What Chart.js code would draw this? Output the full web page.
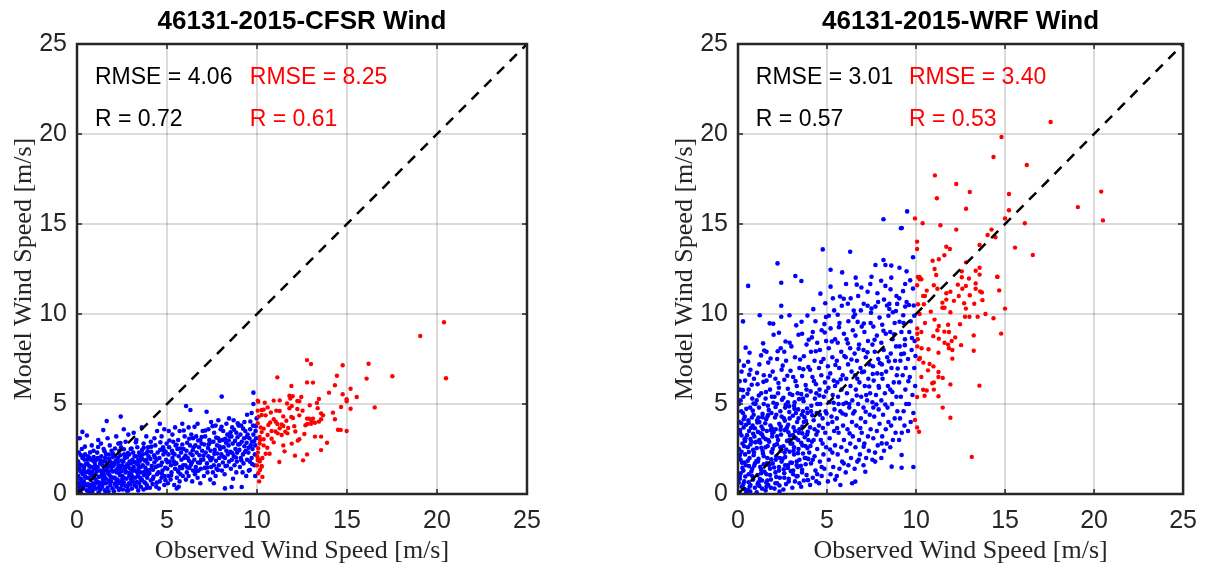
<!DOCTYPE html>
<html>
<head>
<meta charset="utf-8">
<script src="https://cdn.jsdelivr.net/npm/chart.js@4.4.1/dist/chart.umd.min.js"></script>
<style>
  body { margin: 0; background: #fff; }
  #wrap { position: relative; width: 1209px; height: 569px; }
  canvas { position: absolute; top: 0; }
</style>
</head>
<body>
<div id="wrap">
  <canvas id="cfsr" width="610" height="569" style="left:0"></canvas>
  <canvas id="wrf" width="599" height="569" style="left:610px"></canvas>
</div>
<script>
// axis ticks shared by both panels
const axisTicks = [0, 5, 10, 15, 20, 25];
const panelTitles = ['46131-2015-CFSR Wind', '46131-2015-WRF Wind'];
const rmseAll = ['4.06', '3.01'];
const rmseHigh = ['8.25', '3.40'];
const rAll = ['0.72', '0.57'];
const rHigh = ['0.61', '0.53'];
const diagonal = [[0, 0], [25, 25]];

// CFSR, observed < 10 m/s (blue)
const cfsrBlue = [
  [0.05,0.2],[0.1,0.6],[0.08,1.0],[0.12,1.4],[0.06,1.8],[0.1,2.3],[0.15,3.1],[0.2,0.1],[0.25,0.45],[0.22,0.85],[0.28,1.2],[0.24,1.6],[0.3,2.0],[0.27,2.5],[0.35,0.3],[0.38,0.7],[0.33,1.1],[0.4,1.5],[0.42,1.9],[0.45,0.95],[0.3,3.45],[0.45,2.2],
  [0.55,0.2],[0.6,0.55],[0.52,0.9],[0.65,1.3],[0.58,1.7],[0.62,2.1],[0.55,3.25],[0.7,0.35],[0.75,0.8],[0.72,1.15],[0.8,1.5],[0.78,1.9],[0.85,0.15],[0.88,0.6],[0.9,1.0],[0.95,1.4],[0.92,2.4],[0.82,2.7],[0.98,1.75],
  [1.05,0.3],[1.1,0.7],[1.02,1.1],[1.15,1.5],[1.08,1.9],[1.12,2.3],[1.2,0.1],[1.25,0.5],[1.22,0.95],[1.3,1.3],[1.28,1.7],[1.35,2.1],[1.4,0.4],[1.45,0.8],[1.38,1.2],[1.42,1.6],[1.48,2.5],[1.46,3.55],[1.33,2.8],[1.18,3.0],
  [1.55,0.2],[1.6,0.6],[1.52,1.0],[1.65,1.4],[1.58,1.8],[1.62,2.2],[1.65,4.05],[1.7,0.35],[1.75,0.75],[1.72,1.15],[1.8,1.55],[1.78,1.95],[1.85,0.5],[1.88,0.95],[1.9,1.3],[1.95,1.7],[1.92,2.4],[1.98,2.05],[1.82,2.7],[1.7,3.1],
  [2.05,0.15],[2.1,0.55],[2.02,0.9],[2.15,1.3],[2.08,1.7],[2.12,2.1],[2.2,0.4],[2.25,0.8],[2.22,1.2],[2.3,1.6],[2.28,2.0],[2.35,2.4],[2.4,0.3],[2.45,0.7],[2.38,1.05],[2.42,1.45],[2.48,1.85],[2.43,4.3],[2.3,2.8],[2.18,3.2],[2.45,2.6],
  [2.55,0.25],[2.6,0.65],[2.52,1.0],[2.65,1.4],[2.58,1.8],[2.62,2.2],[2.7,0.45],[2.75,0.85],[2.72,1.25],[2.8,1.65],[2.78,2.05],[2.85,0.2],[2.88,0.6],[2.9,1.0],[2.95,1.4],[2.92,1.8],[2.98,2.5],[2.7,2.9],[2.85,3.3],[2.6,3.6],
  [3.05,0.3],[3.1,0.7],[3.02,1.1],[3.15,1.5],[3.08,1.9],[3.12,2.3],[3.2,0.5],[3.25,0.9],[3.22,1.3],[3.3,1.7],[3.28,2.1],[3.35,2.6],[3.4,0.2],[3.45,0.6],[3.38,1.0],[3.42,1.4],[3.48,1.8],[3.3,3.0],[3.45,2.3],[3.15,3.4],
  [3.55,0.4],[3.6,0.8],[3.52,1.2],[3.65,1.6],[3.58,2.0],[3.62,2.45],[3.7,0.25],[3.75,0.65],[3.72,1.05],[3.8,1.45],[3.78,1.85],[3.85,2.25],[3.88,0.5],[3.9,0.9],[3.95,1.3],[3.92,1.7],[3.98,2.1],[3.7,2.8],[3.85,3.2],[3.6,3.7],[3.95,2.6],
  [4.05,0.35],[4.1,0.75],[4.02,1.15],[4.15,1.55],[4.08,1.95],[4.12,2.35],[4.2,0.55],[4.25,0.95],[4.22,1.35],[4.3,1.75],[4.28,2.15],[4.35,2.7],[4.4,0.4],[4.45,1.1],[4.38,1.5],[4.42,1.9],[4.48,2.3],[4.3,3.1],[4.45,3.5],[4.1,2.9],
  [4.55,0.3],[4.6,0.7],[4.52,1.2],[4.65,1.6],[4.58,2.0],[4.62,2.45],[4.7,0.9],[4.75,1.3],[4.72,1.75],[4.8,2.2],[4.78,2.6],[4.85,0.5],[4.88,1.0],[4.9,1.45],[4.95,1.9],[4.92,2.35],[4.98,2.8],[4.7,3.2],[4.85,3.6],[4.6,3.9],
  [5.05,0.6],[5.1,1.0],[5.02,1.4],[5.15,1.8],[5.08,2.2],[5.12,2.6],[5.2,0.8],[5.25,1.2],[5.22,1.6],[5.3,2.0],[5.28,2.4],[5.35,2.9],[5.4,0.5],[5.45,1.4],[5.38,1.8],[5.42,2.2],[5.48,2.7],[5.3,3.3],[5.54,0.31],[5.45,3.7],[5.1,3.5],
  [5.55,0.9],[5.6,1.3],[5.52,1.7],[5.65,2.1],[5.58,2.5],[5.62,3.0],[5.7,0.7],[5.75,1.1],[5.72,1.5],[5.8,1.9],[5.78,2.3],[5.85,2.75],[5.88,1.0],[5.9,1.6],[5.95,2.0],[5.92,2.5],[5.98,3.2],[5.7,3.5],[5.85,3.9],[5.65,0.4],
  [6.05,0.8],[6.1,1.2],[6.02,1.6],[6.15,2.0],[6.08,2.4],[6.12,2.85],[6.2,1.0],[6.25,1.45],[6.22,1.85],[6.3,2.25],[6.28,2.7],[6.35,3.3],[6.4,0.7],[6.45,1.3],[6.38,1.75],[6.42,2.15],[6.48,2.6],[6.06,4.89],[6.3,4.67],[6.2,3.7],[6.45,3.1],
  [6.55,1.1],[6.6,1.5],[6.52,1.9],[6.65,2.3],[6.58,2.7],[6.62,3.2],[6.7,0.9],[6.75,1.3],[6.72,1.75],[6.8,2.15],[6.78,2.6],[6.85,3.0],[6.88,1.4],[6.9,1.9],[6.95,2.4],[6.92,2.8],[6.98,3.5],[6.7,3.9],[6.85,0.6],
  [7.05,1.0],[7.1,1.45],[7.02,1.9],[7.15,2.3],[7.08,2.75],[7.12,3.2],[7.2,4.57],[7.25,1.2],[7.22,1.7],[7.3,2.1],[7.28,2.55],[7.35,3.0],[7.4,0.8],[7.45,1.5],[7.38,2.0],[7.42,2.4],[7.48,2.9],[7.3,3.6],[7.45,4.0],
  [7.55,1.2],[7.6,1.6],[7.52,2.0],[7.65,2.45],[7.58,2.9],[7.62,3.4],[7.7,1.0],[7.75,1.4],[7.72,1.85],[7.8,2.25],[7.78,2.7],[7.85,3.1],[7.88,1.6],[7.9,2.0],[7.95,2.5],[7.92,2.95],[7.98,3.6],[7.7,3.8],[7.85,4.1],[7.6,0.6],
  [8.05,1.3],[8.1,1.75],[8.02,2.2],[8.15,2.6],[8.08,3.0],[8.12,3.5],[8.04,5.41],[8.2,1.1],[8.25,1.55],[8.22,2.0],[8.3,2.4],[8.28,2.85],[8.35,3.3],[8.22,0.31],[8.45,1.8],[8.38,2.2],[8.42,2.7],[8.48,3.2],[8.3,3.9],[8.45,4.2],
  [8.55,1.4],[8.6,1.9],[8.52,2.35],[8.65,2.8],[8.58,3.2],[8.62,3.7],[8.59,0.39],[8.67,0.85],[8.75,1.6],[8.72,2.1],[8.8,2.5],[8.78,2.95],[8.85,3.4],[8.88,1.8],[8.9,2.3],[8.95,2.75],[8.92,3.15],[8.98,3.8],[8.7,4.1],[8.85,1.2],
  [9.05,1.5],[9.1,2.0],[9.02,2.45],[9.15,2.9],[9.08,3.3],[9.12,3.8],[9.15,0.39],[9.2,1.2],[9.25,1.7],[9.22,2.2],[9.3,2.65],[9.28,3.1],[9.35,3.5],[9.4,1.0],[9.45,1.9],[9.38,2.4],[9.42,2.85],[9.48,3.3],[9.3,4.0],[9.45,4.4],
  [9.55,1.3],[9.6,1.8],[9.52,2.3],[9.65,2.7],[9.58,3.1],[9.62,3.6],[9.6,1.33],[9.7,2.0],[9.75,2.5],[9.72,2.9],[9.8,3.3],[9.78,3.8],[9.8,5.63],[9.8,5.0],[9.85,1.6],[9.88,2.2],[9.9,2.7],[9.95,3.1],[9.92,3.5],[9.98,4.2],[9.7,4.5],[9.9,1.0],
  [0.15,0.4],[0.18,0.8],[0.2,1.25],[0.14,1.65],[0.36,2.1],[0.4,0.55],[0.5,1.2],[0.48,1.65],[0.65,0.9],[0.68,1.55],[0.7,2.0],[0.75,0.5],[0.85,1.25],[0.9,1.85],[0.95,0.4],[1.0,0.85],[1.0,1.6],[1.1,1.25],[1.15,2.0],[1.2,0.65],
  [1.3,0.25],[1.35,1.0],[1.4,1.8],[1.5,0.6],[1.5,1.3],[1.55,2.0],[1.6,0.85],[1.68,1.6],[1.75,0.15],[1.8,1.05],[1.85,1.8],[1.9,0.7],[2.0,1.25],[2.0,2.25],[2.1,0.9],[2.15,1.85],[2.25,1.4],[2.3,0.6],[2.35,1.2],[2.4,2.15],
  [2.5,0.5],[2.5,1.6],[2.6,0.9],[2.65,2.0],[2.7,1.2],[2.8,0.4],[2.85,1.5],[2.9,2.2],[3.0,0.8],[3.0,1.7],[3.1,1.3],[3.2,2.1],[3.3,0.4],[3.35,1.2],[3.4,1.9],[3.5,0.9],[3.55,1.5],[3.65,2.2],[3.7,1.2],[3.8,0.6],[3.85,1.9],[3.95,1.1],
  [0.07,0.33],[0.13,1.52],[0.21,2.17],[0.29,0.61],[0.37,1.37],[0.44,2.63],[0.51,0.47],[0.59,1.93],[0.66,0.12],[0.73,2.31],[0.81,1.07],[0.87,0.27],[0.93,2.05],[1.01,0.57],[1.09,1.43],[1.17,2.61],[1.23,0.37],[1.31,1.87],[1.39,0.63],[1.47,1.13],
  [1.53,2.37],[1.61,0.09],[1.69,1.27],[1.77,2.19],[1.83,0.67],[1.91,1.47],[1.97,0.31],[2.03,1.57],[2.11,2.53],[2.19,0.73],[2.27,1.79],[2.33,0.23],[2.41,2.83],[2.47,1.27],[2.53,0.87],[2.61,2.49],[2.69,1.53],[2.77,0.19],[2.83,2.27],[2.91,1.17],
  [2.97,0.53],[3.03,2.53],[3.11,0.93],[3.19,1.77],[3.27,2.87],[3.33,0.67],[3.41,1.57],[3.49,2.13],[3.57,0.77],[3.63,1.93],[3.71,2.57],[3.79,1.23],[3.87,0.33],[3.93,2.37],[4.03,1.33],[4.13,2.63],[4.21,0.83],[4.33,2.03],[4.43,0.63],[4.51,1.57],
  [4.63,2.87],[4.71,1.13],[4.83,2.43],[4.91,0.77],[5.03,1.77],[5.13,2.97],[5.23,1.03],[5.33,2.27],[5.43,1.67],[5.53,2.73],[5.63,1.23],[5.73,2.53],[5.83,1.43],[5.93,3.53],[6.03,2.13],[6.13,1.47],[6.23,3.07],[6.33,1.63],[6.43,2.43],[6.53,3.73],
  [6.63,1.27],[6.73,2.97],[6.83,1.73],[6.93,3.17],[7.03,2.13],[7.13,3.53],[7.23,1.47],[7.33,2.77],[7.43,1.87],[7.53,3.77],[7.63,2.23],[7.73,3.13],[7.83,1.33],[7.93,2.63],[8.03,3.73],[8.13,2.07],[8.23,3.07],[8.33,1.57],[8.43,2.97],[8.53,3.43],
  [8.63,2.27],[8.73,3.57],[8.83,2.03],[8.93,3.93],[9.03,2.77],[9.13,1.87],[9.23,3.63],[9.33,2.33],[9.43,3.17],[9.53,2.57],[9.63,4.03],[9.73,1.67],[9.83,2.93],[9.93,3.77]
];

// CFSR, observed >= 10 m/s (red)
const cfsrRed = [
  [20.39,9.54],[19.07,8.78],[20.5,6.43],[17.52,6.54],[16.2,7.24],[16.09,6.41],[16.54,4.81],[14.76,7.15],[14.44,6.57],[15.54,5.39],
  [15.2,5.85],[14.98,5.26],[14.98,5.15],[15.2,4.74],[14.98,3.5],[14.65,3.56],[14.5,3.57],[14.67,4.83],[14.33,6.04],[14.76,5.54],
  [14.0,5.63],[13.44,5.28],[13.33,5.06],[12.78,7.44],[13.0,7.22],[12.78,6.2],[13.11,6.19],[14.22,4.52],[14.33,4.15],[13.56,4.48],
  [13.67,4.37],[13.56,4.15],[13.44,4.02],[13.22,3.96],[13.11,4.19],[12.89,4.19],[12.78,4.19],[13.0,3.9],[13.22,3.19],[13.56,3.19],
  [13.89,2.85],[13.56,2.44],[12.78,2.2],[12.56,1.87],[12.11,2.13],[11.24,1.78],[12.46,5.39],[12.24,5.17],[12.35,5.15],[11.91,6.0],
  [11.8,5.46],[11.98,5.43],[11.85,5.3],[11.93,4.89],[11.8,4.76],[12.24,4.72],[12.35,4.37],[11.91,4.28],[12.0,4.22],[11.13,6.48],
  [10.93,5.19],[11.26,5.2],[10.59,4.81],[10.37,4.69],[10.26,4.39],[10.04,5.19],[10.04,4.63],[10.48,4.37],[11.26,4.61],[11.46,4.31],
  [10.93,4.15],[11.04,4.02],[11.13,3.89],[11.37,3.87],[11.46,3.78],[11.26,3.65],[11.15,3.37],[11.37,3.28],[10.81,3.5],[10.37,3.63],
  [10.26,3.44],[10.04,3.93],[10.15,3.17],[10.37,3.04],[10.59,3.28],[10.81,3.07],[10.93,2.87],[11.46,2.7],[11.93,2.8],[11.69,3.37],
  [11.57,3.46],[12.35,3.04],[12.69,3.82],[12.8,3.89],[13.02,4.06],[10.37,2.7],[10.15,2.8],[10.48,2.24],[10.7,2.24],[10.04,1.89],
  [10.15,1.81],[10.0,1.59],[10.26,1.56],[10.07,5.13],[10.26,4.67],[10.1,4.3],[10.2,3.7],[10.17,3.0],[10.07,2.54],[10.02,2.07],
  [10.15,1.9],[10.26,1.52],[10.17,1.33],[10.07,1.15],[10.3,0.95],[10.12,0.7],[10.05,2.3],[10.3,2.0],
  [10.63,3.83],[10.77,4.53],[11.07,4.63],[11.63,4.07],[11.73,3.67],[12.13,3.47],[12.53,4.63],[12.63,3.33],[10.57,2.57],[11.03,3.47],
  [11.67,5.03],[12.07,3.77],[10.73,3.97],[13.37,4.77],[12.93,4.93],[10.43,5.07],[11.53,2.37],[12.27,2.97]
];

// WRF, observed < 10 m/s (blue)
const wrfBlue = [
  [0.05,0.1],[0.2,0.4],[0.35,0.7],[0.1,1.0],[0.3,1.3],[0.45,1.6],[0.15,1.9],[0.4,2.2],[0.05,2.5],[0.25,2.8],[0.42,3.1],[0.12,3.4],[0.32,3.7],[0.08,4.0],[0.38,4.3],[0.18,4.6],[0.05,5.0],[0.3,5.4],[0.1,5.8],[0.4,6.3],[0.2,6.8],[0.05,7.4],[0.28,9.59],[0.4,0.25],[0.1,0.85],[0.25,1.45],[0.05,2.05],[0.35,2.65],[0.2,3.25],[0.45,3.85],[0.28,4.5],[0.15,5.2],[0.45,0.05],
  [0.55,0.2],[0.7,0.5],[0.85,0.8],[0.6,1.1],[0.8,1.4],[0.95,1.7],[0.65,2.0],[0.9,2.3],[0.55,2.6],[0.75,2.9],[0.92,3.2],[0.62,3.5],[0.82,3.8],[0.58,4.1],[0.88,4.4],[0.68,4.8],[0.57,7.35],[0.65,7.85],[0.8,5.3],[0.6,5.8],[0.9,6.4],[0.7,6.9],[0.57,11.56],[0.95,0.35],[0.6,0.65],[0.75,1.25],[0.55,1.85],[0.85,2.45],[0.7,3.05],[0.95,3.65],[0.78,4.25],[0.98,5.0],
  [1.05,0.1],[1.2,0.45],[1.35,0.75],[1.1,1.05],[1.3,1.35],[1.45,1.65],[1.15,1.95],[1.4,2.25],[1.05,2.55],[1.25,2.85],[1.42,3.15],[1.12,3.45],[1.32,3.75],[1.08,4.1],[1.38,4.45],[1.18,4.8],[1.05,5.2],[1.3,5.6],[1.1,6.1],[1.45,6.6],[1.2,7.2],[1.41,8.37],[1.22,9.93],[1.35,0.3],[1.15,0.65],[1.25,1.5],[1.45,2.1],[1.05,2.9],[1.35,3.3],[1.2,4.0],[1.45,5.0],[1.3,7.7],
  [1.55,0.2],[1.7,0.5],[1.85,0.8],[1.6,1.1],[1.8,1.4],[1.95,1.7],[1.65,2.0],[1.9,2.3],[1.55,2.6],[1.75,2.9],[1.92,3.2],[1.62,3.5],[1.82,3.8],[1.58,4.15],[1.88,4.5],[1.68,4.9],[1.55,5.3],[1.8,5.8],[1.6,6.3],[1.95,6.8],[1.7,7.3],[1.78,9.48],[1.98,9.46],[1.85,0.35],[1.65,0.75],[1.75,1.6],[1.95,2.5],[1.55,3.05],[1.85,3.55],[1.7,4.4],[1.9,5.4],[1.6,7.9],
  [2.05,0.3],[2.2,0.6],[2.35,0.9],[2.1,1.2],[2.3,1.5],[2.45,1.8],[2.15,2.1],[2.4,2.4],[2.05,2.7],[2.25,3.0],[2.42,3.3],[2.12,3.6],[2.32,3.9],[2.08,4.25],[2.38,4.6],[2.18,5.0],[2.05,5.4],[2.3,5.9],[2.1,6.4],[2.45,6.9],[2.2,7.5],[2.0,8.85],[2.3,8.96],[2.43,10.46],[2.43,9.85],[2.43,11.74],[2.22,12.81],[2.33,0.13],[2.15,0.95],[2.35,2.0],[2.0,3.45],[2.45,4.3],[2.25,5.6],[2.4,8.1],
  [2.55,0.25],[2.7,0.55],[2.85,0.85],[2.6,1.15],[2.8,1.45],[2.95,1.75],[2.65,2.05],[2.9,2.35],[2.55,2.65],[2.75,2.95],[2.92,3.25],[2.62,3.55],[2.82,3.85],[2.58,4.2],[2.88,4.55],[2.68,4.95],[2.55,5.35],[2.8,5.85],[2.6,6.35],[2.95,6.85],[2.7,7.4],[2.89,9.93],[2.85,0.7],[2.65,1.6],[2.95,2.8],[2.75,3.7],[2.6,7.9],[2.9,8.4],[2.5,1.95],[2.8,5.1],
  [3.05,0.35],[3.2,0.7],[3.35,1.0],[3.1,1.3],[3.3,1.6],[3.45,1.9],[3.15,2.2],[3.4,2.5],[3.05,2.8],[3.25,3.1],[3.42,3.4],[3.12,3.7],[3.32,4.0],[3.08,4.35],[3.38,4.7],[3.18,5.1],[3.05,5.5],[3.3,6.0],[3.1,6.5],[3.45,7.0],[3.2,7.6],[3.4,8.85],[3.22,12.11],[3.35,1.5],[3.15,2.6],[3.45,3.6],[3.25,4.5],[3.0,8.2],[3.35,5.6],[3.45,0.6],
  [3.55,0.4],[3.7,0.75],[3.85,1.05],[3.6,1.35],[3.8,1.65],[3.95,1.95],[3.65,2.25],[3.9,2.55],[3.55,2.85],[3.75,3.15],[3.92,3.45],[3.62,3.75],[3.82,4.05],[3.58,4.4],[3.88,4.75],[3.68,5.15],[3.55,5.55],[3.8,6.05],[3.6,6.55],[3.95,7.05],[3.7,7.65],[3.9,9.91],[3.56,11.83],[3.85,8.3],[3.6,8.9],[3.75,2.0],[3.95,3.0],[3.65,4.6],[3.85,5.8],
  [4.05,0.5],[4.2,0.9],[4.35,1.3],[4.1,1.7],[4.3,2.1],[4.45,2.5],[4.15,2.9],[4.4,3.3],[4.05,3.7],[4.25,4.1],[4.42,4.5],[4.12,4.9],[4.32,5.3],[4.08,5.7],[4.38,6.1],[4.18,6.5],[4.05,6.9],[4.3,7.4],[4.1,7.9],[4.45,8.4],[4.2,9.0],[4.4,0.7],[4.25,3.0],[4.45,5.0],[4.15,8.7],[4.35,9.6],[4.0,2.3],[4.45,1.1],
  [4.55,0.6],[4.7,1.0],[4.85,1.4],[4.6,1.8],[4.8,2.2],[4.95,2.6],[4.65,3.0],[4.9,3.4],[4.55,3.8],[4.75,4.2],[4.92,4.6],[4.62,5.0],[4.82,5.4],[4.58,5.8],[4.88,6.2],[4.68,6.6],[4.55,7.0],[4.8,7.5],[4.6,8.0],[4.95,8.5],[4.7,9.1],[4.94,9.83],[4.85,9.44],[4.76,13.59],[4.9,10.6],[4.6,4.4],[4.75,2.8],[4.95,5.7],[4.7,1.5],
  [5.05,0.7],[5.2,1.1],[5.35,1.5],[5.1,1.9],[5.3,2.3],[5.45,2.7],[5.15,3.1],[5.4,3.5],[5.05,3.9],[5.25,4.3],[5.42,4.7],[5.12,5.1],[5.32,5.5],[5.08,5.9],[5.38,6.3],[5.18,6.7],[5.05,7.1],[5.3,7.6],[5.1,8.1],[5.45,8.6],[5.2,9.2],[5.46,0.8],[5.2,12.46],[5.2,11.52],[5.4,10.2],[5.1,9.9],[5.3,4.0],[5.45,6.0],
  [5.55,1.0],[5.7,1.4],[5.85,1.8],[5.6,2.2],[5.8,2.6],[5.95,3.0],[5.65,3.4],[5.9,3.8],[5.55,4.2],[5.75,4.6],[5.92,5.0],[5.62,5.4],[5.82,5.8],[5.58,6.2],[5.88,6.6],[5.68,7.0],[5.55,7.4],[5.8,7.9],[5.6,8.4],[5.95,8.9],[5.7,9.5],[5.6,9.96],[5.94,1.7],[5.94,10.85],[5.83,10.46],[5.85,12.31],[5.75,0.5],[5.65,5.0],
  [6.05,1.2],[6.2,1.6],[6.35,2.0],[6.1,2.4],[6.3,2.8],[6.45,3.2],[6.15,3.6],[6.4,4.0],[6.05,4.4],[6.25,4.8],[6.42,5.2],[6.12,5.6],[6.32,6.0],[6.08,6.4],[6.38,6.8],[6.18,7.2],[6.05,7.6],[6.3,8.1],[6.1,8.6],[6.45,9.1],[6.2,9.6],[6.17,10.57],[6.07,11.67],[6.3,13.46],[6.41,0.6],[6.5,10.19],[6.48,9.83],[6.25,5.0],
  [6.55,1.4],[6.7,1.8],[6.85,2.2],[6.6,2.6],[6.8,3.0],[6.95,3.4],[6.65,3.8],[6.9,4.2],[6.55,4.6],[6.75,5.0],[6.92,5.4],[6.62,5.8],[6.82,6.2],[6.58,6.6],[6.88,7.0],[6.68,7.4],[6.55,7.8],[6.8,8.3],[6.6,8.8],[6.95,9.3],[6.72,9.56],[6.61,12.02],[6.67,11.63],[6.75,11.0],[6.59,0.69],[6.78,1.9],[6.9,10.2],[6.7,6.4],
  [7.05,1.6],[7.2,2.0],[7.35,2.4],[7.1,2.8],[7.3,3.2],[7.45,3.6],[7.15,4.0],[7.4,4.4],[7.05,4.8],[7.25,5.2],[7.42,5.6],[7.12,6.0],[7.32,6.4],[7.08,6.8],[7.38,7.2],[7.18,7.6],[7.05,8.0],[7.3,8.5],[7.1,9.0],[7.45,9.5],[7.28,11.24],[7.06,10.57],[7.28,10.46],[7.06,2.63],[7.15,1.24],[7.5,12.07],[7.5,10.3],[7.2,5.5],
  [7.55,1.9],[7.7,2.3],[7.85,2.7],[7.6,3.1],[7.8,3.5],[7.95,3.9],[7.65,4.3],[7.9,4.7],[7.55,5.1],[7.75,5.5],[7.92,5.9],[7.62,6.3],[7.82,6.7],[7.58,7.1],[7.88,7.5],[7.68,7.9],[7.55,8.3],[7.8,8.8],[7.6,9.3],[7.95,9.8],[7.72,12.72],[7.83,11.15],[7.72,10.41],[7.7,1.8],[7.9,6.0],[7.6,4.8],
  [8.05,2.0],[8.2,2.4],[8.35,2.8],[8.1,3.2],[8.3,3.6],[8.45,4.0],[8.15,4.4],[8.4,4.8],[8.05,5.2],[8.25,5.6],[8.42,6.0],[8.12,6.4],[8.32,6.8],[8.08,7.2],[8.38,7.6],[8.18,8.0],[8.05,8.4],[8.3,8.9],[8.1,9.4],[8.45,9.9],[8.17,15.26],[8.17,13.0],[8.28,12.72],[8.04,11.85],[8.28,11.56],[8.5,10.56],[8.5,10.28],[8.07,2.81],[8.2,10.8],
  [8.55,2.6],[8.7,3.0],[8.85,3.4],[8.6,3.8],[8.8,4.2],[8.95,4.6],[8.65,5.0],[8.9,5.4],[8.55,5.8],[8.75,6.2],[8.92,6.6],[8.62,7.0],[8.82,7.4],[8.58,7.8],[8.88,8.2],[8.68,8.6],[8.55,9.0],[8.8,9.5],[8.61,12.69],[8.61,12.02],[8.94,10.56],[8.63,1.52],[8.7,10.1],[8.9,11.0],
  [9.05,3.0],[9.2,3.4],[9.35,3.8],[9.1,4.2],[9.3,4.6],[9.45,5.0],[9.15,5.4],[9.4,5.8],[9.05,6.2],[9.25,6.6],[9.42,7.0],[9.12,7.4],[9.32,7.8],[9.08,8.2],[9.38,8.6],[9.18,9.0],[9.06,10.87],[9.39,11.67],[9.39,10.41],[9.28,9.93],[9.15,14.76],[9.2,14.78],[9.5,15.7],[9.19,2.17],[9.19,1.46],[9.3,9.5],
  [9.55,3.5],[9.7,4.0],[9.85,4.5],[9.6,5.0],[9.8,5.5],[9.95,6.0],[9.65,6.5],[9.9,7.0],[9.55,7.5],[9.75,8.0],[9.92,8.5],[9.62,9.0],[9.83,11.41],[9.83,13.15],[9.7,9.6],[9.9,9.9],[9.6,10.5],[9.85,1.5],
  [0.3,0.55],[0.15,1.15],[0.35,1.75],[0.2,2.35],[0.4,2.95],[0.12,3.55],[0.32,4.15],[0.65,0.4],[0.8,1.0],[0.62,1.55],[0.88,2.15],[0.7,2.75],[0.85,3.35],[0.6,3.95],[1.1,0.55],[1.3,1.15],[1.12,1.8],[1.38,2.4],[1.2,3.0],[1.4,3.6],
  [1.15,4.25],[1.6,0.4],[1.8,1.05],[1.62,1.7],[1.88,2.35],[1.7,3.0],[1.9,3.65],[1.65,4.3],[2.1,0.6],[2.3,1.3],[2.12,1.9],[2.38,2.6],[2.2,3.2],[2.4,3.75],[2.15,4.4],[2.6,0.9],[2.8,1.6],[2.62,2.3],[2.88,3.0],[2.7,3.6],
  [2.9,4.2],[2.65,4.8],[3.1,1.1],[3.3,1.8],[3.12,2.4],[3.38,3.0],[3.2,3.5],[3.4,4.2],[3.15,4.9],[3.6,1.2],[3.8,2.0],[3.62,2.7],[3.88,3.3],[3.7,4.0],[3.9,4.5],[3.65,5.3],[4.2,1.9],[4.3,3.6],[4.1,4.6],[4.4,5.6],
  [0.04,0.63],[0.11,2.17],[0.19,3.93],[0.27,5.77],[0.33,7.13],[0.41,0.97],[0.47,4.73],[0.09,6.27],[0.23,1.73],[0.37,3.03],[0.53,5.57],[0.61,2.33],[0.69,0.13],[0.77,6.07],[0.83,4.63],[0.91,1.57],[0.97,2.87],[0.51,3.27],[0.73,3.67],[0.87,5.03],
  [0.63,6.63],[0.43,8.13],[1.03,1.83],[1.09,3.97],[1.17,5.47],[1.23,0.83],[1.31,2.57],[1.37,4.27],[1.43,6.23],[1.49,1.23],[1.07,6.73],[1.27,3.37],[1.53,3.93],[1.59,0.63],[1.67,2.67],[1.73,4.67],[1.79,6.57],[1.87,1.93],[1.93,3.37],[1.99,5.07],
  [1.57,5.67],[1.83,7.53],[1.47,7.97],[2.03,1.47],[2.11,4.83],[2.19,2.77],[2.27,6.17],[2.33,0.47],[2.39,3.57],[2.47,5.23],[2.51,7.13],[2.57,1.37],[2.63,4.07],[2.71,2.47],[2.77,6.57],[2.83,3.43],[2.91,5.57],[2.97,1.27],[2.23,7.93],[2.67,8.47],
  [2.87,4.87],[3.03,1.73],[3.09,3.27],[3.17,4.73],[3.23,6.27],[3.29,0.97],[3.37,2.27],[3.43,5.27],[3.49,7.47],[3.53,1.57],[3.61,3.37],[3.67,6.93],[3.73,4.27],[3.79,2.67],[3.87,5.47],[3.93,0.77],[3.97,8.57],[3.27,9.37],[3.57,9.57],
  [4.07,2.67],[4.17,4.37],[4.27,6.27],[4.37,7.93],[4.47,3.47],[4.57,5.47],[4.67,7.33],[4.77,3.67],[4.87,8.97],[4.97,4.47],[5.07,6.47],[5.17,2.47],[5.27,8.47],[5.37,5.07],[5.47,7.17],[5.57,3.67],[5.67,9.27],[5.77,6.37],[5.87,4.47],[5.97,7.67],
  [4.23,10.27],[4.63,11.13],[5.33,10.87],[5.73,10.97],[6.07,5.07],[6.17,8.37],[6.27,3.37],[6.37,7.47],[6.47,4.47],[6.57,9.97],[6.67,5.47],[6.77,8.07],[6.87,3.67],[6.97,6.77],[7.07,9.47],[7.17,4.57],[7.27,7.87],[7.37,5.97],[7.47,10.07],[7.57,6.67],
  [7.67,8.57],[7.77,4.97],[7.87,10.67],[7.97,7.27],[6.33,10.87],[6.93,11.47],[7.43,11.67],[8.07,6.67],[8.17,9.07],[8.27,4.97],[8.37,10.47],[8.47,7.37],[8.57,11.37],[8.67,5.67],[8.77,8.87],[8.87,10.17],[8.97,6.97],[9.07,9.57],[9.17,7.77],[9.27,11.27],
  [9.37,8.27],[9.47,10.67],[9.57,6.27],[9.67,11.87],[9.77,8.67],[9.87,10.47],[9.97,7.67],[9.47,12.37],[9.07,12.57]
];

// WRF, observed >= 10 m/s (red)
const wrfRed = [
  [17.56,20.67],[14.8,19.83],[14.35,18.72],[16.22,18.28],[11.06,17.7],[12.26,17.22],[13.02,16.78],[11.17,16.43],[15.22,16.67],[19.09,15.94],
  [20.4,16.8],[20.5,15.2],[12.81,15.85],[15.22,15.76],[9.94,15.31],[15.0,15.31],[10.37,15.04],[11.37,14.93],[16.11,15.04],[12.26,14.69],
  [14.24,14.69],[14.02,14.39],[14.46,14.26],[10.06,14.02],[10.06,13.61],[11.7,13.74],[11.9,13.61],[13.57,13.83],[15.56,13.69],[11.59,13.26],
  [11.28,13.04],[10.93,12.96],[16.56,13.28],[12.81,12.87],[11.04,12.5],[12.57,12.37],[13.57,12.57],[13.35,12.4],[14.57,12.06],[10.2,12.06],
  [10.1,12.06],[14.56,12.07],[14.67,11.31],[13.35,11.7],[13.57,12.19],[13.35,11.4],[13.6,11.25],[13.7,11.2],[12.8,11.56],[12.35,11.63],
  [12.57,12.04],[11.93,11.24],[11.7,11.15],[12.6,11.4],[12.4,11.0],[13.02,11.04],[11.48,10.63],[11.7,10.8],[11.48,10.35],[11.6,10.35],
  [11.93,10.1],[12.7,10.6],[12.8,10.3],[12.75,9.85],[13.0,9.85],[13.46,9.85],[13.9,10.0],[14.35,9.76],[15.0,10.3],[14.78,8.91],
  [13.24,8.81],[13.24,7.96],[11.04,9.69],[11.28,9.33],[11.2,9.1],[11.59,9.02],[11.8,9.4],[11.85,9.0],[12.2,8.7],[12.0,8.5],
  [11.8,8.3],[11.85,8.1],[11.6,8.4],[11.28,8.63],[12.04,8.0],[12.04,7.52],[11.26,7.85],[10.7,8.04],[10.31,8.1],[10.17,7.48],
  [10.22,7.56],[10.41,7.3],[10.76,7.22],[10.98,7.09],[11.26,6.78],[11.5,6.45],[11.26,6.5],[11.0,6.2],[10.91,6.15],[10.3,6.5],
  [11.93,6.09],[13.56,6.02],[10.6,5.75],[10.4,5.79],[11.0,5.8],[11.26,5.43],[10.48,5.46],[10.06,5.39],[11.5,4.8],[11.93,4.24],
  [9.94,4.11],[10.06,3.7],[10.17,3.46],[13.13,2.06],[10.2,11.93],[10.3,11.93],[10.06,11.6],[10.6,11.3],[10.5,11.0],[10.4,11.0],
  [11.2,11.4],[10.44,10.54],[10.11,10.54],[11.0,11.6],[10.07,9.2],[10.07,8.9],[10.1,8.6],[10.07,8.2],[10.2,10.0],[10.5,9.5],[10.3,9.0],
  [12.13,10.73],[12.47,9.43],[13.27,10.57],[10.83,10.13],[10.97,8.77],[12.53,8.27],[13.73,10.77],[11.13,12.17],[12.97,11.97],[10.67,6.87]
];

const toPoints = arr => arr.map(p => ({ x: p[0], y: p[1] }));

// matlab style frame, titles and stats text
const frameText = {
  id: 'frameText',
  afterDraw(chart) {
    const o = chart.options.plugins.frameText;
    const ctx = chart.ctx;
    const a = chart.chartArea;
    const xs = chart.scales.x, ys = chart.scales.y;
    ctx.save();
    // inward tick marks
    ctx.strokeStyle = '#262626';
    ctx.lineWidth = 1.5;
    axisTicks.forEach(v => {
      const px = xs.getPixelForValue(v);
      const py = ys.getPixelForValue(v);
      ctx.beginPath();
      ctx.moveTo(px, a.bottom); ctx.lineTo(px, a.bottom - 5);
      ctx.moveTo(px, a.top); ctx.lineTo(px, a.top + 5);
      ctx.moveTo(a.left, py); ctx.lineTo(a.left + 5, py);
      ctx.moveTo(a.right, py); ctx.lineTo(a.right - 5, py);
      ctx.stroke();
    });
    ctx.lineWidth = 2.5;
    ctx.strokeRect(a.left, a.top, a.right - a.left, a.bottom - a.top);

    const cx = (a.left + a.right) / 2;
    ctx.fillStyle = '#000';
    ctx.textAlign = 'center';
    ctx.textBaseline = 'alphabetic';
    ctx.font = 'bold 26px "Liberation Sans", Arial, sans-serif';
    ctx.fillText(o.title, cx, 29);

    ctx.fillStyle = '#262626';
    ctx.font = '26px "Liberation Serif", "Times New Roman", serif';
    ctx.fillText('Observed Wind Speed [m/s]', cx, 558);
    ctx.save();
    ctx.translate(a.left - 46, (a.top + a.bottom) / 2);
    ctx.rotate(-Math.PI / 2);
    ctx.fillText('Model Wind Speed [m/s]', 0, 0);
    ctx.restore();

    ctx.textAlign = 'left';
    ctx.font = '23px "Liberation Sans", Arial, sans-serif';
    ctx.fillStyle = '#000';
    ctx.fillText('RMSE = ' + o.rmse[0], xs.getPixelForValue(1), 84);
    ctx.fillText('R = ' + o.r[0], xs.getPixelForValue(1), 126);
    ctx.fillStyle = '#ff0000';
    ctx.fillText('RMSE = ' + o.rmse[1], xs.getPixelForValue(9.6), 84);
    ctx.fillText('R = ' + o.r[1], xs.getPixelForValue(9.6), 126);
    ctx.restore();
  }
};

function makePanel(id, idx, blue, red, padLeft, padRight) {
  const tickFont = { family: '"Liberation Sans", Arial, sans-serif', size: 25 };
  const axis = (extra) => Object.assign({
    type: 'linear',
    min: 0,
    max: 25,
    afterBuildTicks: s => { s.ticks = axisTicks.map(v => ({ value: v })); },
    grid: { color: 'rgba(0,0,0,0.14)', lineWidth: 2, drawTicks: false },
    border: { display: false },
    ticks: { color: '#262626', font: tickFont, maxRotation: 0 }
  }, extra);

  return new Chart(document.getElementById(id), {
    type: 'scatter',
    data: {
      datasets: [
        {
          type: 'line',
          data: toPoints(diagonal),
          borderColor: '#000',
          borderWidth: 2.5,
          borderDash: [10, 8],
          pointRadius: 0,
          fill: false
        },
        {
          data: toPoints(red),
          backgroundColor: '#ff0000',
          pointRadius: 2.2,
          borderWidth: 0
        },
        {
          data: toPoints(blue),
          backgroundColor: '#0000ff',
          pointRadius: 2.3,
          borderWidth: 0
        }
      ]
    },
    options: {
      responsive: false,
      animation: false,
      layout: { padding: { left: padLeft, right: padRight, top: 44, bottom: 0 } },
      scales: {
        x: axis({ position: 'bottom', afterFit: s => { s.height = 75; }, ticks: { color: '#262626', font: tickFont, maxRotation: 0, padding: 12 } }),
        y: axis({ position: 'left', afterFit: s => { s.width = 70; }, ticks: { color: '#262626', font: tickFont, padding: 10 } })
      },
      plugins: {
        legend: { display: false },
        tooltip: { enabled: false },
        frameText: {
          title: panelTitles[idx],
          rmse: [rmseAll[idx], rmseHigh[idx]],
          r: [rAll[idx], rHigh[idx]]
        }
      }
    },
    plugins: [frameText]
  });
}

makePanel('cfsr', 0, cfsrBlue, cfsrRed, 7, 83);
makePanel('wrf', 1, wrfBlue, wrfRed, 58, 22);
</script>
</body>
</html>
